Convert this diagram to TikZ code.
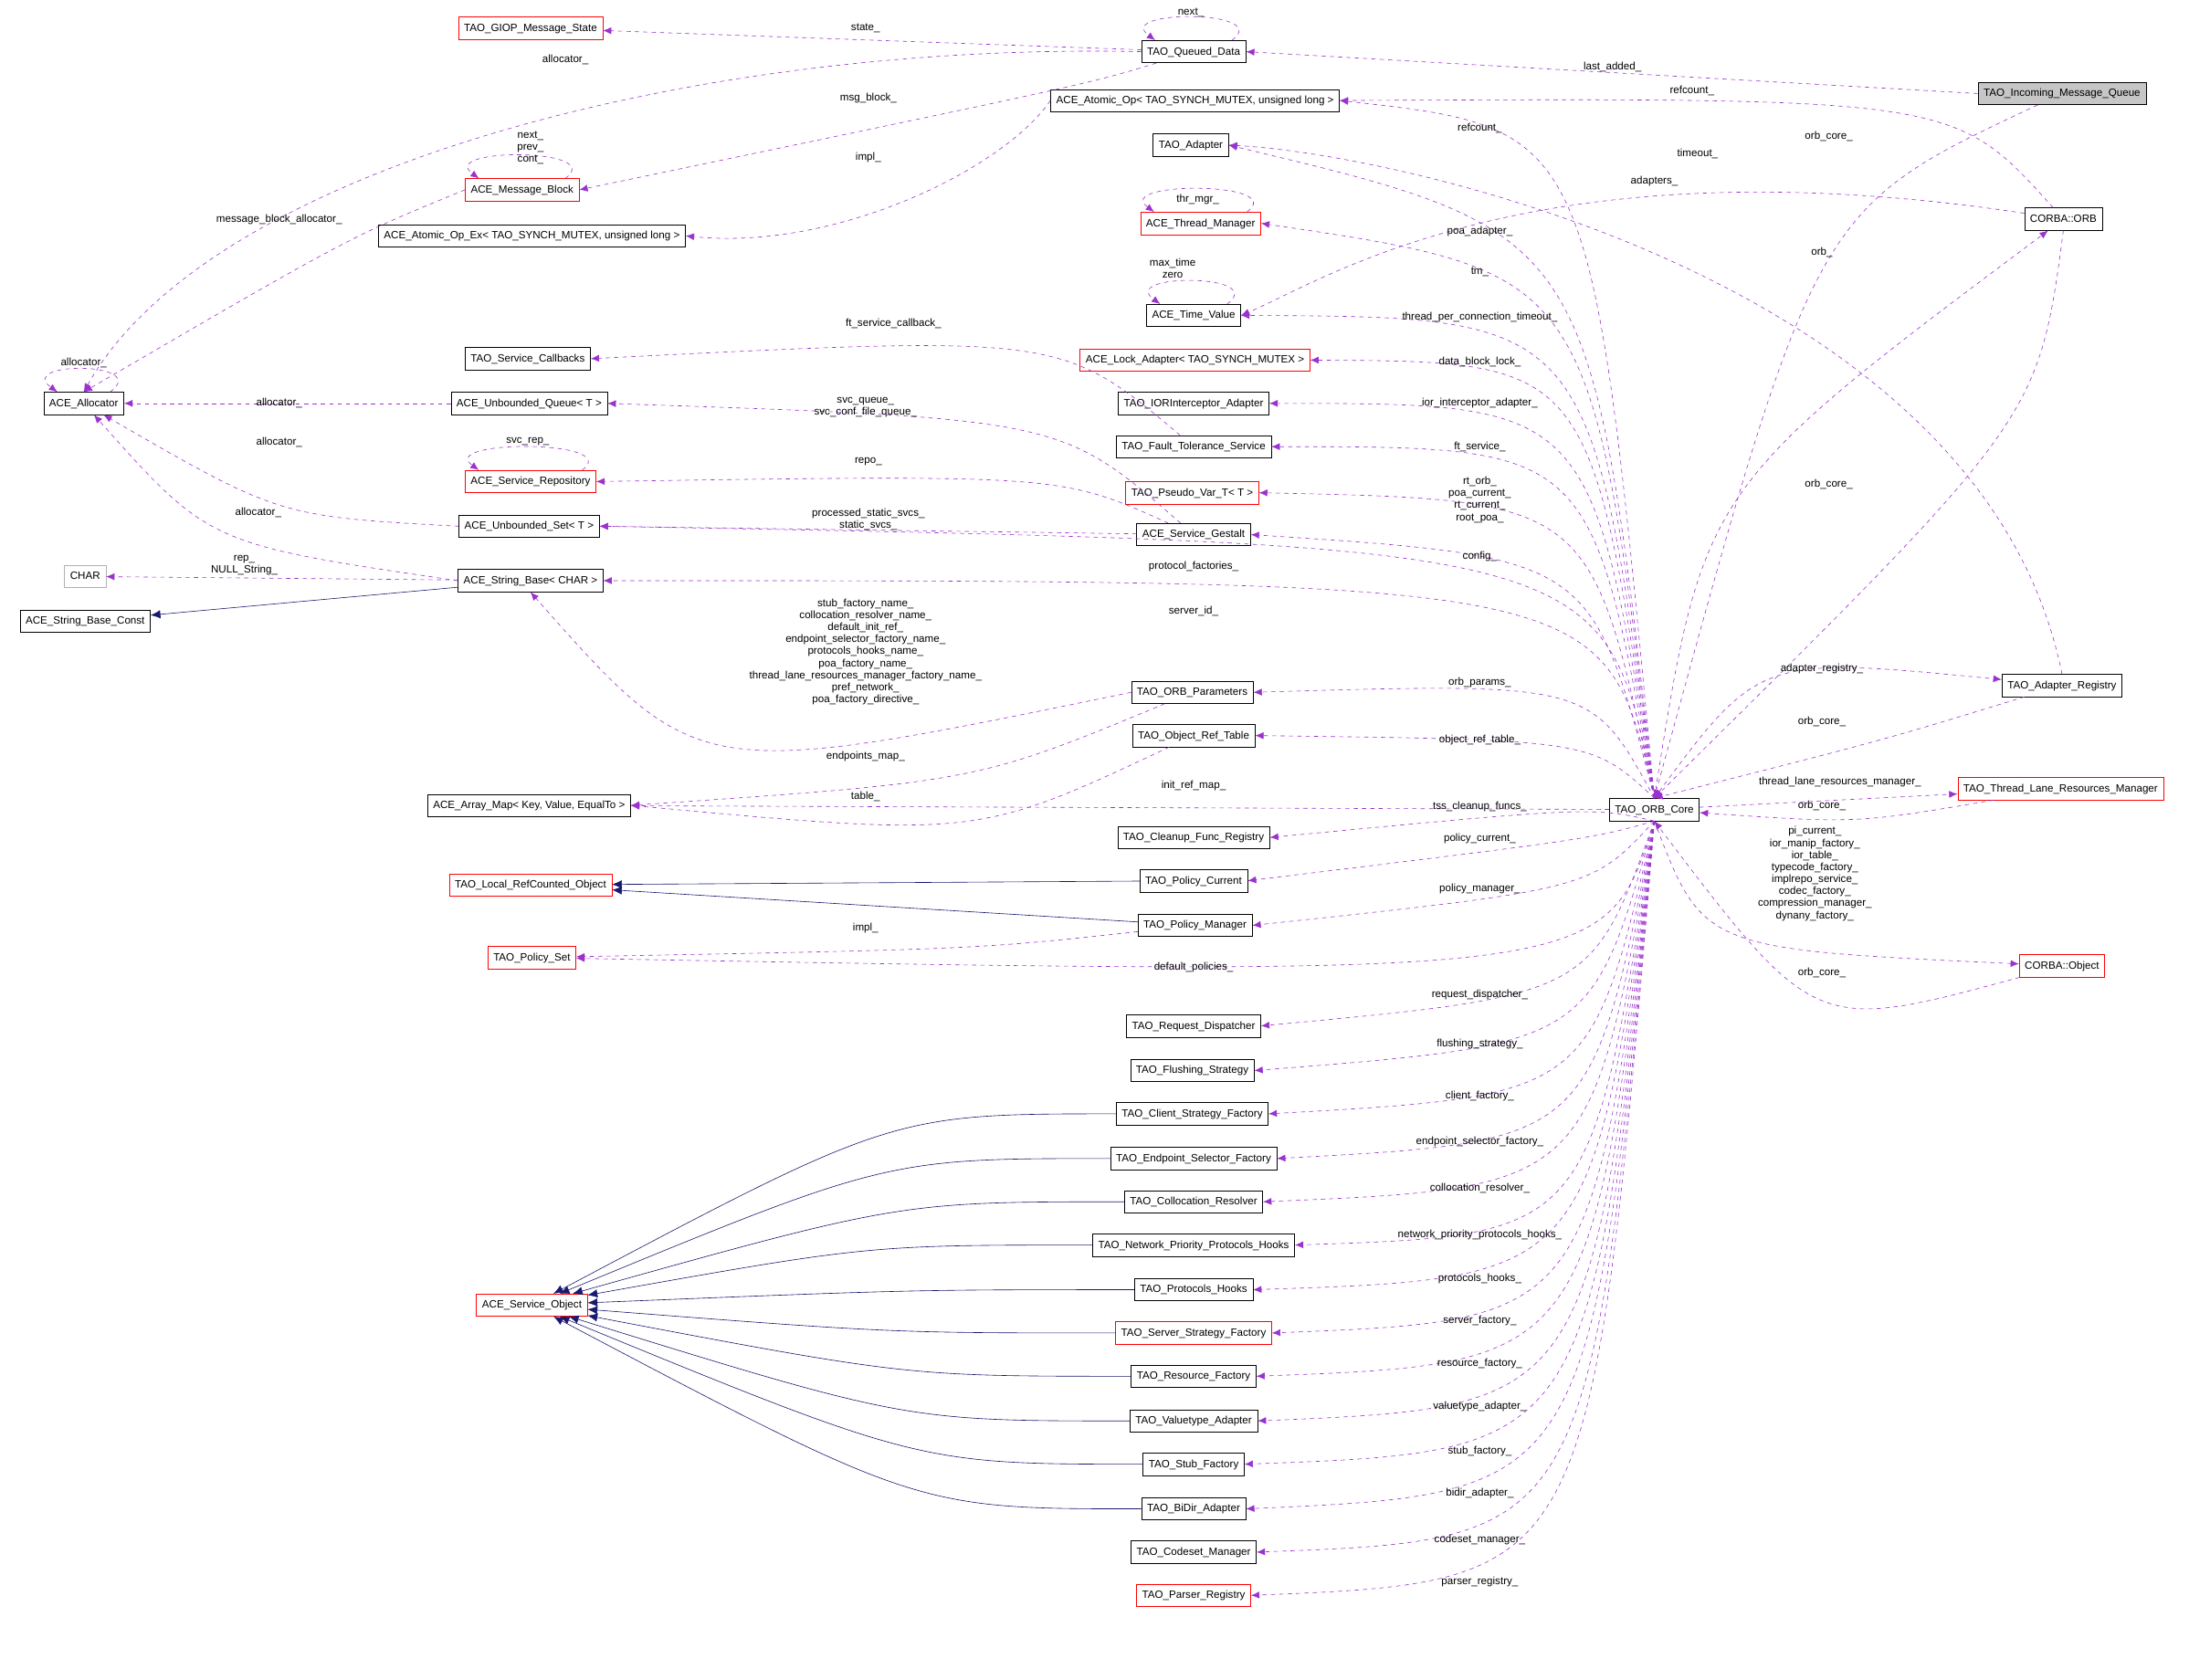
\documentclass[tikz,border=0pt]{standalone}
\usepackage{fontspec}
\setmainfont{Liberation Sans}
\usetikzlibrary{arrows.meta}
\definecolor{purp}{HTML}{9A32CD}
\definecolor{navy}{HTML}{191970}
\newcommand{\fs}{\fontsize{7.6}{8.6}\selectfont}
\tikzset{
 box/.style={draw=black, fill=white, font=\fs, minimum height=16, inner xsep=4, inner ysep=1, text height=6, text depth=1.5},
 rbox/.style={box, draw=red},
 gbox/.style={box, draw=gray!60},
 edge/.style={draw=purp, dashed, -{Latex[length=6,width=5]}},
 inh/.style={draw=navy, -{Latex[length=7,width=6]}},
 lbl/.style={font=\fs, align=center, inner sep=0}
}
\begin{document}
\begin{tikzpicture}[x=1pt,y=-1pt]
\useasboundingbox (0,0) rectangle (1568,1203);
% nodes
\node[rbox] (gms) at (380,20) {TAO\_GIOP\_Message\_State};
\node[box] (qd) at (855,37) {TAO\_Queued\_Data};
\node[box] (aop) at (856,72) {ACE\_Atomic\_Op< TAO\_SYNCH\_MUTEX, unsigned long >};
\node[box, fill=gray!45] (imq) at (1477,67) {TAO\_Incoming\_Message\_Queue};
\node[box] (ada) at (853,104) {TAO\_Adapter};
\node[rbox] (mb) at (374,136) {ACE\_Message\_Block};
\node[rbox] (thm) at (860,160) {ACE\_Thread\_Manager};
\node[box] (aopx) at (381,169) {ACE\_Atomic\_Op\_Ex< TAO\_SYNCH\_MUTEX, unsigned long >};
\node[box] (orb) at (1478,157) {CORBA::ORB};
\node[box] (tv) at (855,226) {ACE\_Time\_Value};
\node[box] (scb) at (378,257) {TAO\_Service\_Callbacks};
\node[rbox] (lad) at (856,258) {ACE\_Lock\_Adapter< TAO\_SYNCH\_MUTEX >};
\node[box] (alloc) at (60,289) {ACE\_Allocator};
\node[box] (uq) at (379,289) {ACE\_Unbounded\_Queue< T >};
\node[box] (ior) at (855,289) {TAO\_IORInterceptor\_Adapter};
\node[box] (fts) at (855,320) {TAO\_Fault\_Tolerance\_Service};
\node[rbox] (srep) at (380,345) {ACE\_Service\_Repository};
\node[rbox] (pv) at (854,353) {TAO\_Pseudo\_Var\_T< T >};
\node[box] (us) at (379,377) {ACE\_Unbounded\_Set< T >};
\node[box] (sg) at (855,383) {ACE\_Service\_Gestalt};
\node[gbox] (chr) at (61,413) {CHAR};
\node[box] (sb) at (380,416) {ACE\_String\_Base< CHAR >};
\node[box] (sbc) at (61,445) {ACE\_String\_Base\_Const};
\node[box] (op) at (854,496) {TAO\_ORB\_Parameters};
\node[box] (areg) at (1477,491) {TAO\_Adapter\_Registry};
\node[box] (ort) at (855,527) {TAO\_Object\_Ref\_Table};
\node[box] (core) at (1185,580) {TAO\_ORB\_Core};
\node[rbox] (tlrm) at (1476,565) {TAO\_Thread\_Lane\_Resources\_Manager};
\node[box] (am) at (379,577) {ACE\_Array\_Map< Key, Value, EqualTo >};
\node[box] (cfr) at (855,600) {TAO\_Cleanup\_Func\_Registry};
\node[rbox] (lrc) at (380,634) {TAO\_Local\_RefCounted\_Object};
\node[box] (pc) at (855,631) {TAO\_Policy\_Current};
\node[box] (pm) at (856,663) {TAO\_Policy\_Manager};
\node[rbox] (ps) at (381,686) {TAO\_Policy\_Set};
\node[rbox] (cobj) at (1477,692) {CORBA::Object};
\node[box] (rd) at (855,735) {TAO\_Request\_Dispatcher};
\node[box] (fst) at (854,767) {TAO\_Flushing\_Strategy};
\node[box] (csf) at (854,798) {TAO\_Client\_Strategy\_Factory};
\node[box] (esf) at (855,830) {TAO\_Endpoint\_Selector\_Factory};
\node[box] (cr) at (855,861) {TAO\_Collocation\_Resolver};
\node[box] (nph) at (855,892) {TAO\_Network\_Priority\_Protocols\_Hooks};
\node[rbox] (so) at (381,935) {ACE\_Service\_Object};
\node[box] (ph) at (855,924) {TAO\_Protocols\_Hooks};
\node[rbox] (ssf) at (855,955) {TAO\_Server\_Strategy\_Factory};
\node[box] (rf) at (855,986) {TAO\_Resource\_Factory};
\node[box] (va) at (855,1018) {TAO\_Valuetype\_Adapter};
\node[box] (stf) at (855,1049) {TAO\_Stub\_Factory};
\node[box] (bda) at (855,1081) {TAO\_BiDir\_Adapter};
\node[box] (csm) at (855,1112) {TAO\_Codeset\_Manager};
\node[rbox] (pr) at (855,1143) {TAO\_Parser\_Registry};
% inheritance
\draw[inh] (sb) -- (sbc);
\draw[inh] (pc) -- (lrc);
\draw[inh] (pm) -- (lrc);
\foreach \n in {csf,esf,cr,nph,ph,ssf,rf,va,stf,bda} \draw[inh] (\n.west) .. controls +(-160,0) .. (so);
% self loops
\foreach \n in {qd,mb,alloc,thm,tv,srep}
 \draw[edge] ([xshift=-10]\n.north east) .. controls +(30,-22) and +(-30,-22) .. ([xshift=10]\n.north west);
\node[lbl] (l1) at (853,9) {next\_};
\node[lbl] (l2) at (380,106) {next\_\\prev\_\\cont\_};
\node[lbl] (l3) at (60,260) {allocator\_};
\node[lbl] (l4) at (858,143) {thr\_mgr\_};
\node[lbl] (l5) at (840,192) {max\_time\\zero};
\node[lbl] (l6) at (378,316) {svc\_rep\_};
% purple edges
\draw[edge] (qd) -- (gms); \node[lbl] at (620,20) {state\_};
\draw[edge] (qd.west) .. controls (500,30) and (150,120) .. (alloc.north); \node[lbl] at (405,43) {allocator\_};
\draw[edge] (qd) .. controls (780,60) .. (mb.east); \node[lbl] at (622,70) {msg\_block\_};
\draw[edge] (imq.west) -- (qd.east); \node[lbl] at (1155,48) {last\_added\_};
\draw[edge] (imq) .. controls (1300,150) .. (core.north); \node[lbl] at (1310,98) {orb\_core\_};
\draw[edge] (orb) .. controls (1400,70) .. (aop.east); \node[lbl] at (1212,65) {refcount\_};
\draw[edge] (orb) .. controls (1100,100) and (950,200) .. (tv.east); \node[lbl] at (1216,110) {timeout\_};
\draw[edge] (orb.south) .. controls (1460,300) .. (core.north); \node[lbl] at (1310,347) {orb\_core\_};
\draw[edge] (aop.west) .. controls (720,120) and (600,180) .. (aopx.east); \node[lbl] at (622,113) {impl\_};
\draw[edge] (mb.west) .. controls (250,170) .. (alloc.north); \node[lbl] at (200,157) {message\_block\_allocator\_};
\draw[edge] (fts) .. controls (760,240) .. (scb.east); \node[lbl] at (640,232) {ft\_service\_callback\_};
\draw[edge] (uq) -- (alloc); \node[lbl] at (200,289) {allocator\_};
\draw[edge] (sg) .. controls (760,300) .. (uq.east); \node[lbl] at (620,292) {svc\_queue\_\\svc\_conf\_file\_queue\_};
\draw[edge] (sg) .. controls (760,340) .. (srep.east); \node[lbl] at (622,331) {repo\_};
\draw[edge] (sg) -- (us.east); \node[lbl] at (622,372) {processed\_static\_svcs\_\\static\_svcs\_};
\draw[edge] (us.west) .. controls (200,370) .. (alloc); \node[lbl] at (200,317) {allocator\_};
\draw[edge] (sb.west) .. controls (150,390) .. (alloc); \node[lbl] at (185,367) {allocator\_};
\draw[edge] (sb) -- (chr); \node[lbl] at (175,405) {rep\_\\NULL\_String\_};
\draw[edge] (op.west) .. controls (500,560) .. (sb.south); \node[lbl] at (620,467) {stub\_factory\_name\_\\collocation\_resolver\_name\_\\default\_init\_ref\_\\endpoint\_selector\_factory\_name\_\\protocols\_hooks\_name\_\\poa\_factory\_name\_\\thread\_lane\_resources\_manager\_factory\_name\_\\pref\_network\_\\poa\_factory\_directive\_};
\draw[edge] (op) .. controls (700,560) .. (am.east); \node[lbl] at (620,542) {endpoints\_map\_};
\draw[edge] (ort) .. controls (700,600) .. (am.east); \node[lbl] at (620,571) {table\_};
\draw[edge] (core) -- (am); \node[lbl] at (855,563) {init\_ref\_map\_};
\draw[edge] (pm) .. controls (700,680) .. (ps); \node[lbl] at (620,665) {impl\_};
\draw[edge] (core.south) .. controls (1150,700) .. (ps); \node[lbl] at (855,693) {default\_policies\_};
\draw[edge] (areg) .. controls (1350,530) .. (core.north); \node[lbl] at (1305,517) {orb\_core\_};
\draw[edge] (areg.north) .. controls (1420,200) and (1000,110) .. (ada.east); \node[lbl] at (1185,130) {adapters\_};
\draw[edge] (tlrm) .. controls (1330,590) .. (core); \node[lbl] at (1305,577) {orb\_core\_};
\draw[edge] (cobj) .. controls (1300,740) .. (core.south); \node[lbl] at (1305,697) {orb\_core\_};
\draw[edge] (core.north) .. controls (1220,350) .. (orb); \node[lbl] at (1305,181) {orb\_};
\draw[edge] (core.north) .. controls (1260,470) .. (areg); \node[lbl] at (1305,479) {adapter\_registry\_};
\draw[edge] (core) -- (tlrm); \node[lbl] at (1318,560) {thread\_lane\_resources\_manager\_};
\draw[edge] (core.south) .. controls (1220,680) .. (cobj); \node[lbl] at (1300,626) {pi\_current\_\\ior\_manip\_factory\_\\ior\_table\_\\typecode\_factory\_\\implrepo\_service\_\\codec\_factory\_\\compression\_manager\_\\dynany\_factory\_};
\draw[edge] (core.north) .. controls (1150,416) .. (sb.east); \node[lbl] at (855,438) {server\_id\_};
\draw[edge] (core.north) .. controls (1150,390) .. (us.east); \node[lbl] at (855,406) {protocol\_factories\_};
\foreach \t/\y/\l in {aop/92/refcount\_, ada/166/poa\_adapter\_, thm/195/tm\_, tv/227/thread\_per\_connection\_timeout\_, lad/259/data\_block\_lock\_, ior/289/ior\_interceptor\_adapter\_, fts/320/ft\_service\_, pv/358/{rt\_orb\_\\poa\_current\_\\rt\_current\_\\root\_poa\_}, sg/399/config\_, op/489/orb\_params\_, ort/530/object\_ref\_table\_}
 {\draw[edge] (core.north) .. controls (1140,\y) .. (\t.east); \node[lbl] at (1060,\y) {\l};}
\foreach \t/\y/\l in {cfr/578/tss\_cleanup\_funcs\_, pc/601/policy\_current\_, pm/637/policy\_manager\_, rd/713/request\_dispatcher\_, fst/748/flushing\_strategy\_, csf/785/client\_factory\_, esf/818/endpoint\_selector\_factory\_, cr/851/collocation\_resolver\_, nph/885/network\_priority\_protocols\_hooks\_, ph/916/protocols\_hooks\_, ssf/946/server\_factory\_, rf/977/resource\_factory\_, va/1008/valuetype\_adapter\_, stf/1040/stub\_factory\_, bda/1070/bidir\_adapter\_, csm/1103/codeset\_manager\_, pr/1133/parser\_registry\_}
 {\draw[edge] (core.south) .. controls (1140,\y) .. (\t.east); \node[lbl] at (1060,\y) {\l};}
\end{tikzpicture}
\end{document}
